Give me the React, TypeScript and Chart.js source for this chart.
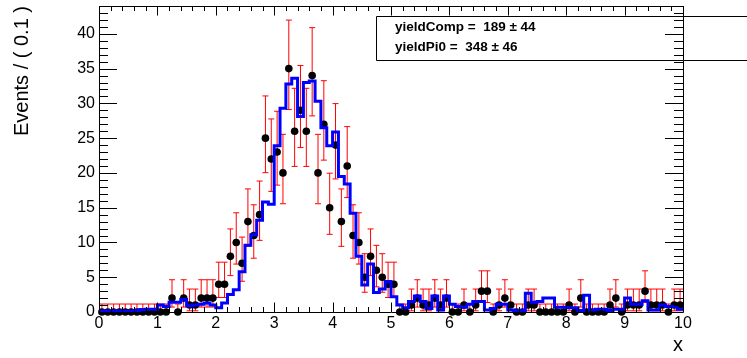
import React, { useEffect, useRef } from 'react';
import { Chart, registerables } from 'chart.js';

Chart.register(...registerables);

// ---- data ----
const BIN_WIDTH = 0.1;
const X_MIN = 0;
const X_MAX = 10;
const Y_MAX = 44;

// observed events per 0.1 bin (100 bins from 0 to 10)
const counts = [
  0, 0, 0, 0, 0, 0, 0, 0, 0, 0,
  0, 0, 2, 0, 2, 1, 1, 2, 2, 2,
  4, 4, 8, 10, 7, 13, 11, 14, 25, 22,
  23, 20, 35, 26, 29, 26, 34, 20, 27, 15,
  24, 13, 21, 11, 10, 5, 8, 6, 5, 4,
  4, 0, 0, 1, 2, 1, 1, 2, 1, 2,
  0, 0, 1, 0, 1, 3, 3, 0, 1, 2,
  1, 0, 0, 1, 1, 0, 0, 0, 0, 0,
  1, 0, 2, 0, 0, 0, 0, 1, 2, 0,
  1, 1, 1, 3, 1, 1, 1, 0, 1, 1,
];

// fitted model (blue step curve), one value per bin
const fitCurve = [
  0.15, 0.15, 0.15, 0.15, 0.15, 0.15, 0.2, 0.35, 0.4, 0.4,
  1.0, 0.8, 1.4, 1.4, 1.8, 0.9, 1.0, 1.1, 1.3, 1.0,
  0.6, 1.3, 2.5, 3.2, 5.8, 9.6, 11.1, 13.2, 15.8, 15.5,
  23.9, 29.3, 32.8, 33.6, 28.1, 33.0, 33.2, 30.3, 26.5, 23.9,
  25.9, 19.5, 18.4, 14.2, 8.0, 3.9, 6.9, 2.8, 3.3, 4.4,
  2.2, 1.0, 0.6, 1.5, 2.3, 1.5, 0.5, 2.3, 0.3, 2.3,
  1.1, 0.8, 0.7, 1.1, 1.5, 1.5, 0.3, 0.5, 1.1, 1.1,
  0.3, 0.2, 0.2, 2.7, 1.4, 1.5, 2.0, 2.0, 0.7, 0.7,
  0.6, 0.6, 0.2, 2.4, 0.3, 0.4, 0.4, 0.2, 0.4, 0.4,
  2.0, 1.1, 1.1, 1.6, 0.3, 0.3, 1.0, 0.8, 0.8, 0.4,
];

const xTickValues = [0, 1, 2, 3, 4, 5, 6, 7, 8, 9, 10];
const xTickLabels = ['0', '1', '2', '3', '4', '5', '6', '7', '8', '9', '10'];
const yTickValues = [0, 5, 10, 15, 20, 25, 30, 35, 40];
const yTickLabels = ['0', '5', '10', '15', '20', '25', '30', '35', '40'];

const yieldNames = ['yieldComp', 'yieldPi0'];
const yieldValues = [189, 348];
const yieldErrors = [44, 46];

const xTitle = 'x';
const yTitle = 'Events / ( 0.1 )';

// ---- Poisson (68.27% central) interval, as used for the data error bars ----
function poissonCdf(n: number, mu: number): number {
  let term = Math.exp(-mu);
  let sum = term;
  for (let k = 1; k <= n; k++) {
    term *= mu / k;
    sum += term;
  }
  return sum;
}

function poissonInterval(n: number): [number, number] {
  const alpha = 1 - 0.682689492;
  if (n === 0) return [0, -Math.log(alpha)];
  const half = alpha / 2;
  let a = n;
  let b = n + 10 * Math.sqrt(n) + 10;
  for (let it = 0; it < 80; it++) {
    const m = (a + b) / 2;
    if (poissonCdf(n, m) > half) a = m;
    else b = m;
  }
  const up = (a + b) / 2;
  a = 0;
  b = n;
  for (let it = 0; it < 80; it++) {
    const m = (a + b) / 2;
    if (1 - poissonCdf(n - 1, m) < half) a = m;
    else b = m;
  }
  const lo = (a + b) / 2;
  return [lo, up];
}

const FONT = '"Liberation Sans", Arial, Helvetica, sans-serif';

const rootFrame = {
  id: 'rootFrame',
  afterDraw(chart: any) {
    const { ctx, chartArea } = chart;
    const xs = chart.scales.x;
    const ys = chart.scales.y;
    const L = chartArea.left;
    const R = chartArea.right;
    const T = chartArea.top;
    const B = chartArea.bottom;
    ctx.save();
    ctx.strokeStyle = '#000';
    ctx.lineWidth = 1;
    ctx.beginPath();
    ctx.rect(Math.round(L) + 0.5, Math.round(T) + 0.5, Math.round(R) - Math.round(L), Math.round(B) - Math.round(T));
    ctx.stroke();

    const xMajor = 9.5;
    const xMinor = 5;
    const yMajor = 18;
    const yMinor = 9;
    ctx.beginPath();
    for (let k = 0; k <= 50; k++) {
      const v = X_MIN + k * 0.2;
      const major = xTickValues.some((t) => Math.abs(t - v) < 1e-6);
      const len = major ? xMajor : xMinor;
      const px = Math.round(xs.getPixelForValue(v)) + 0.5;
      ctx.moveTo(px, B);
      ctx.lineTo(px, B - len);
      ctx.moveTo(px, T);
      ctx.lineTo(px, T + len);
    }
    for (let v = 0; v <= Y_MAX; v += 1) {
      const major = yTickValues.includes(v);
      const len = major ? yMajor : yMinor;
      const py = Math.round(ys.getPixelForValue(v)) + 0.5;
      ctx.moveTo(L, py);
      ctx.lineTo(L + len, py);
      ctx.moveTo(R, py);
      ctx.lineTo(R - len, py);
    }
    ctx.stroke();

    // parameter box
    ctx.beginPath();
    ctx.rect(376.5, 16.5, 420, 44);
    ctx.stroke();
    ctx.fillStyle = '#000';
    ctx.font = `bold 13.5px ${FONT}`;
    ctx.textBaseline = 'middle';
    ctx.textAlign = 'left';
    for (let i = 0; i < yieldNames.length; i++) {
      ctx.fillText(`${yieldNames[i]} =  ${yieldValues[i]} \u00B1 ${yieldErrors[i]}`, 395, 27 + i * 20);
    }
    ctx.restore();
  },
};

export default function App() {
  const ref = useRef<HTMLCanvasElement>(null);

  useEffect(() => {
    document.body.style.margin = '0';
    const centers = counts.map((_, i) => X_MIN + (i + 0.5) * BIN_WIDTH);
    const dataPts = counts.map((n, i) => ({ x: centers[i], y: n }));
    const intervals = counts.map((n) => poissonInterval(n));
    const errPts: any[] = [];
    const capPts: any[] = [];
    intervals.forEach(([lo, up], i) => {
      errPts.push({ x: centers[i], y: lo }, { x: centers[i], y: up }, { x: centers[i], y: null });
      capPts.push({ x: centers[i], y: lo }, { x: centers[i], y: up });
    });
    const fitPts = fitCurve.map((v, i) => ({ x: X_MIN + i * BIN_WIDTH, y: v }));
    fitPts.push({ x: X_MAX, y: fitCurve[fitCurve.length - 1] });

    Chart.defaults.font.family = FONT;

    const chart = new Chart(ref.current as HTMLCanvasElement, {
      type: 'scatter',
      data: {
        datasets: [
          {
            type: 'line',
            label: 'model',
            data: fitPts,
            borderColor: '#0000ff',
            borderWidth: 3,
            pointRadius: 0,
            stepped: true,
            fill: false,
            tension: 0,
            clip: false,
            order: 0,
          } as any,
          {
            type: 'scatter',
            label: 'data',
            data: dataPts,
            pointRadius: 3.8,
            backgroundColor: '#000',
            borderWidth: 0,
            clip: false,
            order: 1,
          } as any,
          {
            type: 'line',
            label: 'errors',
            data: errPts,
            borderColor: '#ff0000',
            borderWidth: 1,
            pointRadius: 0,
            spanGaps: false,
            clip: false,
            order: 2,
          } as any,
          {
            type: 'scatter',
            label: 'caps',
            data: capPts,
            pointStyle: 'line',
            pointRadius: 3,
            borderColor: '#ff0000',
            borderWidth: 1,
            clip: false,
            order: 3,
          } as any,
        ],
      },
      options: {
        animation: false,
        responsive: false,
        devicePixelRatio: 1,
        events: [],
        layout: { padding: { top: 6, right: 64, left: 0, bottom: 0 }, autoPadding: false } as any,
        plugins: { legend: { display: false }, tooltip: { enabled: false } },
        scales: {
          x: {
            type: 'linear',
            min: X_MIN,
            max: X_MAX,
            offset: false,
            afterBuildTicks: (s: any) => {
              s.ticks = xTickValues.map((v) => ({ value: v }));
            },
            afterFit: (s: any) => {
              s.height = 46;
              s.paddingLeft = 0;
              s.paddingRight = 0;
            },
            grid: { display: false, drawTicks: false },
            border: { display: false },
            ticks: {
              font: { size: 16 },
              color: '#000',
              padding: 2,
              maxRotation: 0,
              autoSkip: false,
              callback: (_v: any, i: number) => xTickLabels[i],
            },
            title: {
              display: true,
              text: xTitle,
              align: 'end',
              color: '#000',
              font: { size: 20, lineHeight: 1.2 },
              padding: { top: 0, bottom: 1 },
            },
          },
          y: {
            type: 'linear',
            min: 0,
            max: Y_MAX,
            afterBuildTicks: (s: any) => {
              s.ticks = yTickValues.map((v) => ({ value: v }));
            },
            afterFit: (s: any) => {
              s.width = 99;
              s.paddingTop = 0;
              s.paddingBottom = 0;
            },
            grid: { display: false, drawTicks: false },
            border: { display: false },
            ticks: {
              font: { size: 16 },
              color: '#000',
              padding: 4,
              autoSkip: false,
              callback: (_v: any, i: number) => yTickLabels[i],
            },
            title: {
              display: true,
              text: yTitle,
              align: 'end',
              color: '#000',
              font: { size: 20, lineHeight: 1.2 },
              padding: { top: 10, bottom: 0 },
            },
          },
        },
      } as any,
      plugins: [rootFrame],
    });
    return () => chart.destroy();
  }, []);

  return (
    <div style={{ position: 'fixed', left: 0, top: 0, width: 747, height: 358, background: '#fff' }}>
      <canvas ref={ref} width={747} height={358} style={{ display: 'block', width: 747, height: 358 }} />
    </div>
  );
}
